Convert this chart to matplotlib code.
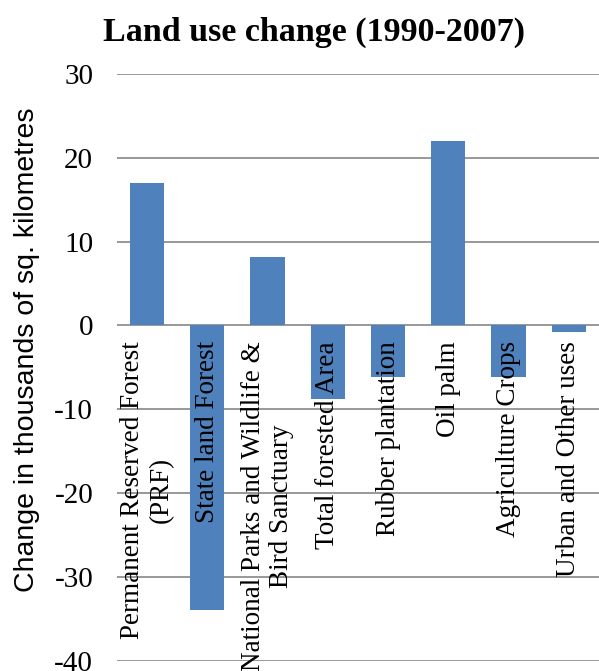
import numpy as np
import matplotlib.pyplot as plt

# categories and change values (thousands of sq. km)
categories = ["Permanent Reserved Forest\n(PRF)", "State land Forest",
              "National Parks and Wildlife &\nBird Sanctuary", "Total forested Area",
              "Rubber plantation", "Oil palm", "Agriculture Crops", "Urban and Other uses"]
change = [17.0, -33.9, 8.2, -8.8, -6.2, 22.0, -6.1, -0.8]
yticks = [-40, -30, -20, -10, 0, 10, 20, 30]

fig = plt.figure(figsize=(5.99, 6.71), dpi=100)
ax = fig.add_axes([0.195, 0.015, 0.805, 0.875])

x = np.arange(len(categories))
ax.bar(x, change, width=0.57, color='#4F81BD', zorder=3)

ax.set_ylim(-40, 30)
ax.set_xlim(-0.5, len(categories) - 0.5)
ax.set_yticks(yticks)
ax.set_yticklabels([str(v) for v in yticks], fontfamily='Liberation Serif', fontsize=21)
ax.tick_params(axis='y', length=0, pad=17)
ax.set_xticks([])
ax.grid(axis='y', color='#868686', linewidth=1.2, zorder=0)
for s in ax.spines.values():
    s.set_visible(False)

# category labels hang from the zero line
for i, lab in enumerate(categories):
    ax.text(i, -1.9, lab, rotation=90, ha='center', va='top', multialignment='center',
            fontfamily='Liberation Serif', fontsize=19.5, zorder=4)

ax.set_ylabel('Change in thousands of sq. kilometres', fontfamily='Liberation Sans',
              fontsize=20.5, labelpad=6)
ax.yaxis.set_label_coords(-0.16, 0.53)

fig.text(0.525, 0.952, 'Land use change (1990-2007)', ha='center', va='center',
         fontfamily='Liberation Serif', fontweight='bold', fontsize=24.5)

plt.savefig('out.png', dpi=100)
